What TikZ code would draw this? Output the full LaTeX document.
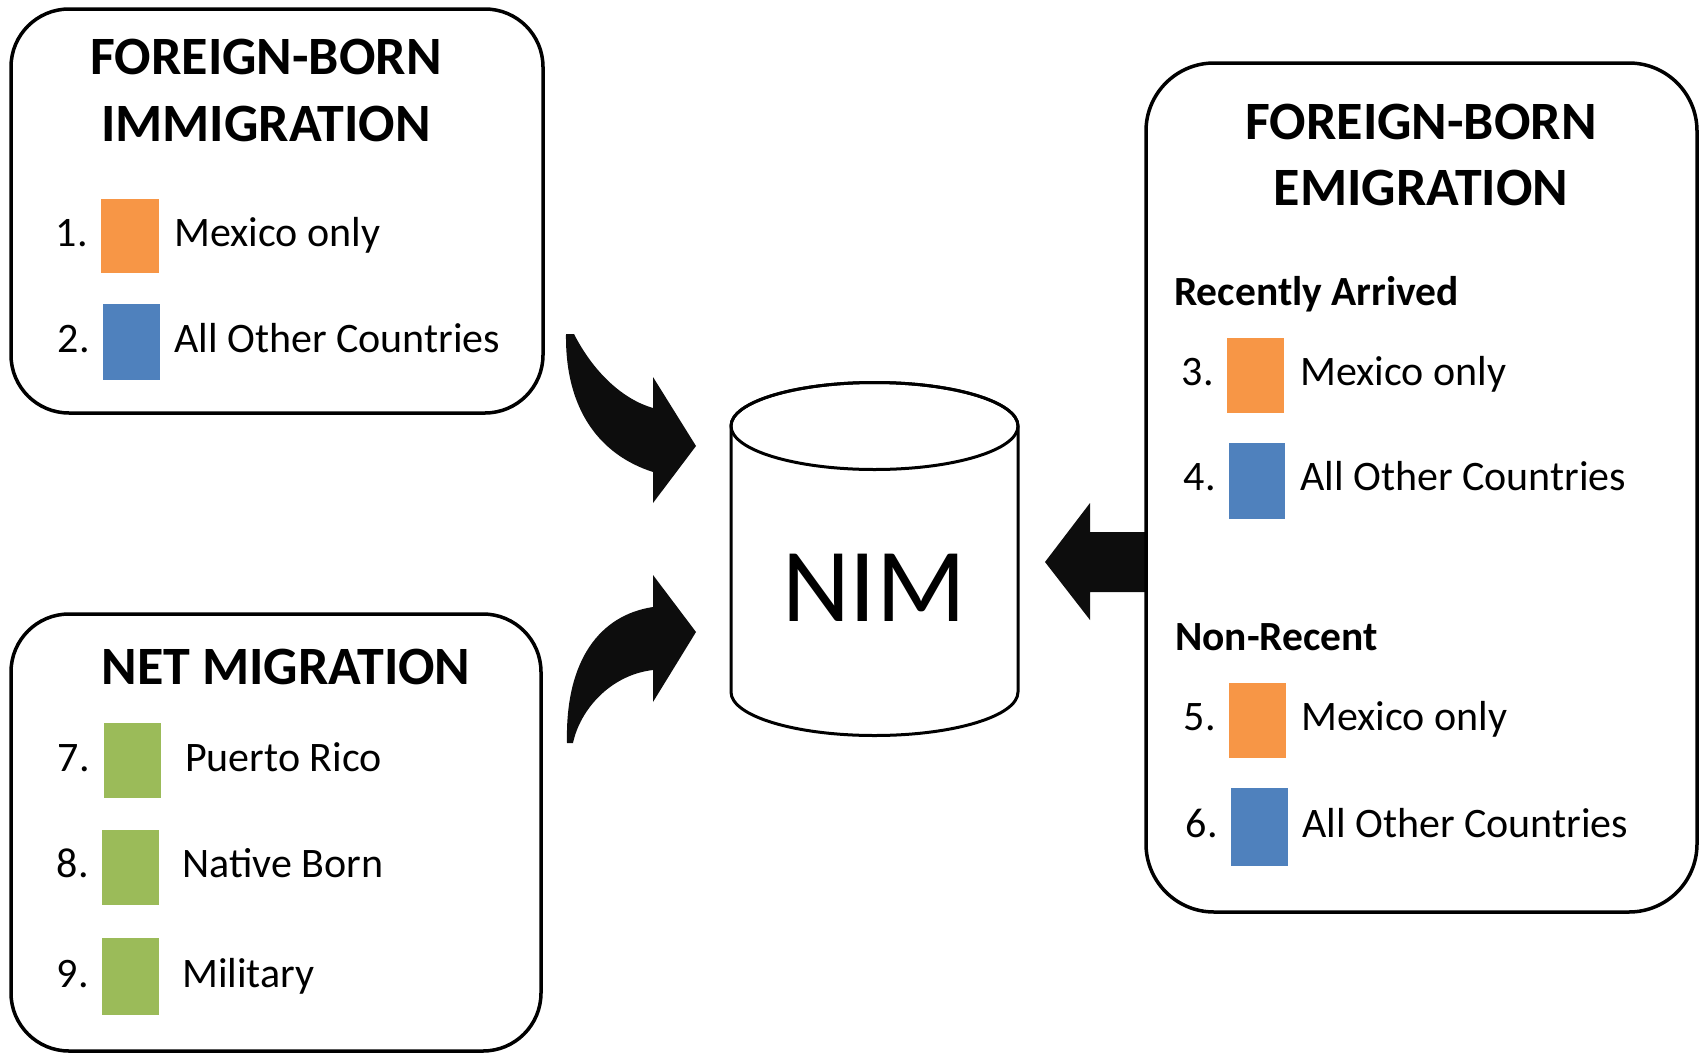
\documentclass[tikz,border=0pt]{standalone}
\usepackage{fontspec}
\setmainfont{Carlito}
\definecolor{orng}{HTML}{F79646}
\definecolor{blu}{HTML}{4F81BD}
\definecolor{grn}{HTML}{9BBB59}
\definecolor{ink}{HTML}{0D0D0D}
\begin{document}
\begin{tikzpicture}[x=1pt,y=-1pt,
  box/.style={draw=black, line width=3.5pt, rounded corners=#1, inner sep=0pt, fill=white},
  sw/.style={fill=#1, draw=none, inner sep=0pt, anchor=north west},
  ttl/.style={anchor=base, inner sep=0pt, font=\fontsize{54}{60}\selectfont\bfseries},
  sub/.style={anchor=base west, inner sep=0pt, font=\fontsize{41.5}{48}\selectfont\bfseries},
  lbl/.style={anchor=base west, inner sep=0pt, font=\fontsize{42}{48}\selectfont},
  num/.style={anchor=base east, inner sep=0pt, font=\fontsize{42}{48}\selectfont},
  blk/.style={fill=ink, draw=none}]
\useasboundingbox (0,0) rectangle (1703,1055);

% block arrows (drawn first, boxes on top)
\coordinate (a1tip) at (696,446);
\coordinate (a2tip) at (696,632);
\coordinate (a3tip) at (1045,562);
\fill[blk] (566,334) -- (574,334) .. controls (595,375) and (625,400) .. (653,408)
  -- (653,377) -- (a1tip) -- (653,503) -- (653,472)
  .. controls (600,455) and (565,410) .. (566,334) -- cycle;
\fill[blk] (567,743) .. controls (565,660) and (600,615) .. (653,607)
  -- (653,575) -- (a2tip) -- (653,702) -- (653,670)
  .. controls (610,675) and (580,710) .. (573,743) -- cycle;
\fill[blk] (1150,532) -- (1090,532) -- (1090,503) -- (a3tip) -- (1090,620) -- (1090,592) -- (1150,592) -- cycle;

% boxes
\node[box=58pt, minimum width=532pt, minimum height=404pt] (b1) at (277,211) {};
\node[box=58pt, minimum width=530pt, minimum height=437pt] (b2) at (276,832.5) {};
\node[box=68pt, minimum width=551pt, minimum height=849pt] (b3) at (1421.5,487.5) {};

% cylinder
\coordinate (cyl) at (874.5,559);
\draw[line width=3pt, fill=white] (731,426) -- (731,692) arc[start angle=180, end angle=360, x radius=143.5, y radius=-43.5] -- (1018,426)
  arc[start angle=0, end angle=180, x radius=143.5, y radius=-43.5] -- cycle;
\draw[line width=3pt] (874.5,426) ellipse[x radius=143.5, y radius=43.5];
\node[anchor=base, inner sep=0pt, font=\fontsize{105}{110}\selectfont] (nim) at (874,621) {NIM};

% box 1
\node[ttl] (t1a) at (266,74) {FOREIGN-BORN};
\node[ttl] (t1b) at (266,141) {IMMIGRATION};
\node[num] (n1) at (88,246) {1.};
\node[sw=orng, minimum width=58pt, minimum height=74pt] (s1) at (101,199) {};
\node[lbl] (l1) at (174,246) {Mexico only};
\node[num] (n2) at (90,352) {2.};
\node[sw=blu, minimum width=57pt, minimum height=76pt] (s2) at (103,304) {};
\node[lbl] (l2) at (174,352) {All Other Countries};

% box 2
\node[ttl] (t2) at (286,684) {NET MIGRATION};
\node[num] (n7) at (90,771) {7.};
\node[sw=grn, minimum width=57pt, minimum height=75pt] (s7) at (104,723) {};
\node[lbl] (l7) at (185,771) {Puerto Rico};
\node[num] (n8) at (89,877) {8.};
\node[sw=grn, minimum width=57pt, minimum height=75pt] (s8) at (102,830) {};
\node[lbl] (l8) at (182,877) {Native Born};
\node[num] (n9) at (89,987) {9.};
\node[sw=grn, minimum width=57pt, minimum height=77pt] (s9) at (102,938) {};
\node[lbl] (l9) at (182,987) {Military};

% box 3
\node[ttl] (t3a) at (1421,139) {FOREIGN-BORN};
\node[ttl] (t3b) at (1421,205) {EMIGRATION};
\node[sub] (h1) at (1174,305) {Recently Arrived};
\node[num] (n3) at (1214,385) {3.};
\node[sw=orng, minimum width=57pt, minimum height=75pt] (s3) at (1227,338) {};
\node[lbl] (l3) at (1300,385) {Mexico only};
\node[num] (n4) at (1216,490) {4.};
\node[sw=blu, minimum width=56pt, minimum height=76pt] (s4) at (1229,443) {};
\node[lbl] (l4) at (1300,490) {All Other Countries};
\node[sub] (h2) at (1175,650) {Non-Recent};
\node[num] (n5) at (1216,730) {5.};
\node[sw=orng, minimum width=57pt, minimum height=75pt] (s5) at (1229,683) {};
\node[lbl] (l5) at (1301,730) {Mexico only};
\node[num] (n6) at (1218,837) {6.};
\node[sw=blu, minimum width=57pt, minimum height=78pt] (s6) at (1231,788) {};
\node[lbl] (l6) at (1302,837) {All Other Countries};
\end{tikzpicture}
\end{document}
